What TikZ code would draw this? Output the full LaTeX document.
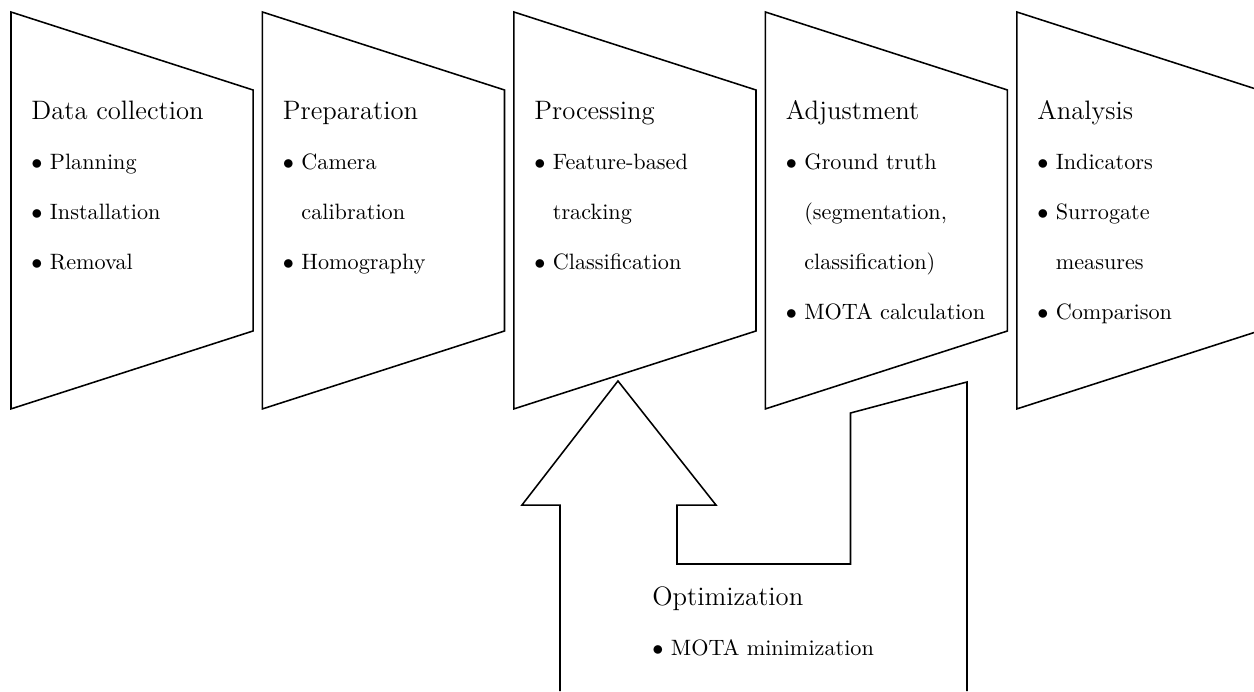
\documentclass[tikz,border=0pt]{standalone}
\usepackage{amsmath}
\usepackage{tikz}
\usetikzlibrary{calc}
\def\stage(#1){\draw[line width=0.7pt] (#1,-0.19)--(#1,-6.47)--({#1+3.83},-5.237)--({#1+3.83},-1.424)--cycle}
\def\gap{\hphantom{$\bullet$} }

\begin{document}
\begin{tikzpicture}[scale=1,
        stagetitle/.style={anchor=base west,inner sep=0pt,font=\large},
        stageitems/.style={anchor=north west,inner sep=0pt,align=left,font=\fontsize{10}{22.5}\selectfont}]
        \useasboundingbox (0,0) rectangle (19.842,-10.934);

        %%% Data collection %%%
        \stage(0.174);
        \node[stagetitle] (collect) at (0.49,-1.883) {Data collection};
        \node[stageitems] (collectlist) at (0.49,-2.43) {$\bullet$ Planning\\$\bullet$ Installation\\$\bullet$ Removal};

        %%% Preparation %%%
        \stage(4.153);
        \node[stagetitle] (prep) at (4.469,-1.883) {Preparation};
        \node[stageitems] (preplist) at (4.469,-2.43) {$\bullet$ Camera\\\gap calibration\\$\bullet$ Homography};

        %%% Processing %%%
        \stage(8.132);
        \node[stagetitle] (proc) at (8.448,-1.883) {Processing};
        \node[stageitems] (proclist) at (8.448,-2.43) {$\bullet$ Feature-based\\\gap tracking\\$\bullet$ Classification};

        %%% Adjustment %%%
        \stage(12.111);
        \node[stagetitle] (adjust) at (12.427,-1.883) {Adjustment};
        \node[stageitems] (adjustlist) at (12.427,-2.43) {$\bullet$ Ground truth\\\gap (segmentation,\\\gap classification)\\$\bullet$ MOTA calculation};

        %%% Analysis %%%
        \stage(16.09);
        \node[stagetitle] (analysis) at (16.406,-1.883) {Analysis};
        \node[stageitems] (analysislist) at (16.406,-2.43) {$\bullet$ Indicators\\$\bullet$ Surrogate\\\gap measures\\$\bullet$ Comparison};

        %%% Optimization loop %%%
        \draw[line width=0.7pt] (8.861,-10.934)--(8.861,-7.991)--(8.259,-7.991)--(9.778,-6.028)--(11.329,-7.991)
            --(10.712,-7.991)--(10.712,-8.924)--(13.457,-8.924)--(13.457,-6.535)--(15.301,-6.044)--(15.301,-10.934);
        \node[stagetitle] (optim) at (10.316,-9.581) {Optimization};
        \node[stageitems] (optimlist) at (10.316,-10.12) {$\bullet$ MOTA minimization};
    \end{tikzpicture}
\end{document}
